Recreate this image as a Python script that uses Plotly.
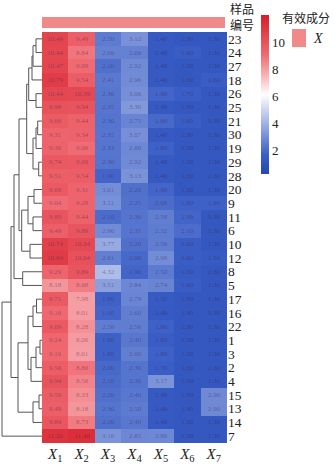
import plotly.graph_objects as go

W, H = 335, 470

samples = [23, 24, 27, 18, 26, 25, 21, 30, 19, 29, 28, 20, 9, 11, 6, 10, 12, 8, 5,
           17, 16, 22, 1, 3, 2, 4, 15, 13, 14, 7]
columns = ["X1", "X2", "X3", "X4", "X5", "X6", "X7"]
col_labels = ["<i>X</i><sub>%d</sub>" % i for i in range(1, 8)]

X1 = [10.49, 10.44, 10.47, 10.79, 10.44, 9.99, 9.66, 9.31, 9.36, 9.74, 9.51, 9.69, 9.04, 9.89, 9.49,
      10.74, 10.84, 9.29, 8.18, 9.71, 9.16, 9.69, 9.24, 9.16, 9.56, 9.94, 9.59, 9.49, 9.84, 11.20]
X2 = [9.49, 8.84, 9.09, 9.54, 10.39, 9.94, 9.44, 9.34, 9.06, 9.69, 9.54, 9.31, 9.29, 9.44, 9.89,
      10.34, 10.04, 9.89, 8.68, 7.98, 8.01, 8.28, 8.06, 8.01, 8.86, 8.56, 8.33, 8.18, 8.73, 11.40]
X3 = [2.50, 2.66, 2.20, 2.41, 2.36, 2.35, 2.30, 2.35, 2.33, 2.30, 1.90, 3.01, 3.11, 2.10, 2.96,
      3.77, 2.61, 4.32, 3.51, 1.80, 1.90, 2.56, 1.80, 1.80, 2.00, 2.10, 2.20, 2.30, 2.20, 3.16]
X4 = [3.12, 2.66, 2.92, 2.96, 3.06, 3.30, 2.75, 3.07, 2.86, 2.92, 3.13, 2.20, 2.25, 2.30, 2.35,
      2.20, 2.00, 1.90, 2.84, 2.79, 2.60, 2.56, 2.40, 2.60, 2.30, 2.30, 2.40, 2.50, 2.40, 2.85]
X5 = [1.40, 1.40, 1.40, 1.40, 1.90, 1.40, 2.00, 1.40, 1.80, 1.40, 1.40, 1.90, 2.08, 2.58, 2.52,
      2.56, 2.98, 2.50, 2.74, 1.50, 1.40, 1.80, 1.60, 1.80, 1.70, 3.17, 1.40, 1.40, 1.40, 2.86]
X6 = [1.30, 1.60, 1.30, 1.30, 1.70, 1.30, 1.60, 1.30, 1.30, 1.30, 1.30, 1.30, 1.80, 1.90, 2.10,
      1.60, 1.60, 1.50, 1.60, 1.30, 1.30, 1.30, 1.30, 1.30, 1.30, 1.30, 1.30, 1.30, 1.30, 1.30]
X7 = [1.30, 1.30, 1.30, 1.60, 1.30, 1.30, 1.30, 1.30, 1.30, 1.30, 1.30, 1.30, 1.80, 1.30, 1.30,
      1.30, 1.50, 1.30, 1.30, 1.30, 1.30, 1.30, 1.30, 1.30, 1.30, 1.30, 2.90, 2.90, 1.30, 1.30]

# dendrogram merges (scipy style: ids >= 30 refer to earlier merges), heights in distance units
merge_left = [0, 30, 31, 4, 32, 6, 35, 9, 36, 34, 11, 13, 40, 15, 42, 39, 17, 45,
              19, 48, 22, 50, 51, 49, 26, 54, 53, 47, 57]
merge_right = [1, 2, 3, 5, 33, 7, 8, 10, 37, 38, 12, 14, 41, 16, 43, 44, 18, 46,
               20, 21, 23, 24, 25, 52, 27, 28, 55, 56, 29]
merge_height = [6, 9, 10, 6, 13.3, 4.3, 6, 3.3, 9, 15.3, 8, 9, 14, 12, 20.3, 23, 19.3, 28,
                5.5, 9, 2, 6, 11, 14, 3, 9, 24, 31, 40]

legend_title = "有效成分"
legend_item = "X"
row_title = "样品<br>编号"

# ---------------------------------------------------------------
z = [list(r) for r in zip(X1, X2, X3, X4, X5, X6, X7)]
txt = [["%.2f" % v for v in r] for r in z]
n = len(samples)
rows = list(range(n))

# build dendrogram line coordinates
pos = {i: (float(i), 0.0) for i in rows}
dx, dy = [], []
for k, (a, b, h) in enumerate(zip(merge_left, merge_right, merge_height)):
    ya, ha = pos[a]
    yb, hb = pos[b]
    dx += [ha, h, h, hb, None]
    dy += [ya, ya, yb, yb, None]
    pos[n + k] = ((ya + yb) / 2.0, h)

px = lambda p: p / W
py = lambda p: 1 - p / H

hm_x0, hm_x1 = 42, 227
hm_y0, hm_y1 = 32, 443

fig = go.Figure()
fig.add_trace(go.Heatmap(
    z=z, x=list(range(len(columns))), y=rows,
    text=txt, texttemplate="%{text}",
    textfont=dict(family="Liberation Serif", size=7, color="rgba(60,30,80,0.45)"),
    zmin=0.3, zmax=12,
    colorscale=[[0, "#2646b2"], [0.12, "#3a5ec6"], [0.5, "#ffffff"],
                [0.62, "#f7b3b6"], [0.75, "#f06a72"], [1, "#d61e2a"]],
    colorbar=dict(x=px(261), xanchor="left", xpad=0, y=py(15), yanchor="top", ypad=0,
                  len=159, lenmode="pixels", thickness=8, outlinewidth=0,
                  tickvals=[2, 4, 6, 8, 10], ticks="",
                  tickfont=dict(family="Liberation Serif", size=13, color="#222")),
    xaxis="x", yaxis="y", hoverinfo="skip",
))
fig.add_trace(go.Scatter(x=dx, y=dy, mode="lines", line=dict(color="#555", width=1),
                         xaxis="x2", yaxis="y", showlegend=False, hoverinfo="skip"))

fig.update_layout(
    width=W, height=H, margin=dict(l=0, r=0, t=0, b=0),
    paper_bgcolor="white", plot_bgcolor="white", showlegend=False,
    xaxis=dict(domain=[px(hm_x0), px(hm_x1)], range=[-0.5, 6.5], tickvals=list(range(7)),
               ticktext=col_labels, ticks="", showgrid=False, zeroline=False, anchor="y",
               tickfont=dict(family="Liberation Serif", size=15, color="#222")),
    yaxis=dict(domain=[py(hm_y1), py(hm_y0)], range=[n - 0.5, -0.5], tickvals=rows,
               ticktext=[str(s) for s in samples], side="right", ticks="", showgrid=False,
               zeroline=False, anchor="x",
               tickfont=dict(family="Liberation Serif", size=13.5, color="#222")),
    xaxis2=dict(domain=[0, px(hm_x0)], range=[42, 0], visible=False, anchor="y"),
)

# top annotation bar
fig.add_shape(type="rect", xref="paper", yref="paper", x0=px(hm_x0), x1=px(225),
              y0=py(28), y1=py(17), fillcolor="#f08a8a", line=dict(width=0))
# legend swatch
fig.add_shape(type="rect", xref="paper", yref="paper", x0=px(292), x1=px(306),
              y0=py(47), y1=py(29), fillcolor="#f08a8a", line=dict(width=0))

fig.add_annotation(x=px(228), y=py(-2), xref="paper", yref="paper", xanchor="left", yanchor="top",
                   text=row_title, showarrow=False, align="left",
                   font=dict(family="Noto Sans CJK SC", size=12, color="#222"))
fig.add_annotation(x=px(280), y=py(17), xref="paper", yref="paper", xanchor="left", yanchor="middle",
                   text=legend_title, showarrow=False,
                   font=dict(family="Noto Sans CJK SC", size=12, color="#222"))
fig.add_annotation(x=px(311), y=py(39), xref="paper", yref="paper", xanchor="left", yanchor="middle",
                   text="<i>%s</i>" % legend_item, showarrow=False,
                   font=dict(family="Liberation Serif", size=14, color="#222"))

fig.write_html("out.html")
